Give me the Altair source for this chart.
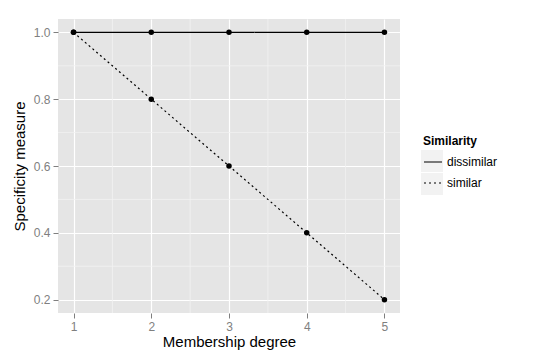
import altair as alt
import pandas as pd

membership = [1, 2, 3, 4, 5]
dissimilar = [1.0, 1.0, 1.0, 1.0, 1.0]
similar = [1.0, 0.8, 0.6, 0.4, 0.2]
groups = ["dissimilar", "similar"]
x_ticks = [1, 2, 3, 4, 5]
y_ticks = [0.2, 0.4, 0.6, 0.8, 1.0]
x_minor = [1.5, 2.5, 3.5, 4.5]
y_minor = [0.3, 0.5, 0.7, 0.9]

rows = []
for g, vals in zip(groups, [dissimilar, similar]):
    for m, v in zip(membership, vals):
        rows.append({"Membership": m, "Specificity": v, "Similarity": g, "Key": g})
df = pd.DataFrame(rows)

FONT = "Liberation Sans"
LEG_X = 363
LEG_Y = 115
xs = alt.Scale(domain=[0.8, 5.2], nice=False, zero=False)
ys = alt.Scale(domain=[0.16, 1.04], nice=False, zero=False)

xminor = alt.Chart(pd.DataFrame({"v": x_minor})).mark_rule(
    color="#F2F2F2", strokeWidth=0.8
).encode(x=alt.X("v:Q", scale=xs))
yminor = alt.Chart(pd.DataFrame({"v": y_minor})).mark_rule(
    color="#F2F2F2", strokeWidth=0.8
).encode(y=alt.Y("v:Q", scale=ys))

base = alt.Chart(df).encode(
    x=alt.X(
        "Membership:Q",
        scale=xs,
        axis=alt.Axis(values=x_ticks, title="Membership degree", format="d"),
    ),
    y=alt.Y(
        "Specificity:Q",
        scale=ys,
        axis=alt.Axis(values=y_ticks, title="Specificity measure", format=".1f"),
    ),
)

# invisible layer that only provides the grey key backgrounds of the legend
keys = base.mark_point(shape="square", filled=True, size=0, opacity=1).encode(
    fill=alt.Fill(
        "Key:N",
        scale=alt.Scale(domain=groups, range=["#F2F2F2", "#F2F2F2"]),
        legend=alt.Legend(
            title=" ",
            orient="none",
            legendX=LEG_X,
            legendY=LEG_Y,
            symbolType="square",
            symbolSize=484,
            symbolStrokeWidth=0,
            symbolOpacity=1,
            rowPadding=1,
            labelExpr="''",
            zindex=0,
        ),
    )
)

lines = base.mark_line(color="black", strokeWidth=1.2).encode(
    strokeDash=alt.StrokeDash(
        "Similarity:N",
        scale=alt.Scale(domain=groups, range=[[1, 0], [2, 3]]),
        legend=alt.Legend(
            title="Similarity",
            orient="none",
            legendX=LEG_X + 2,
            legendY=LEG_Y + 2,
            symbolType="stroke",
            symbolStrokeColor="black",
            symbolStrokeWidth=1.2,
            symbolSize=324,
            rowPadding=5,
            zindex=1,
        ),
    ),
    detail="Similarity:N",
)
points = base.mark_point(filled=True, color="black", size=30, opacity=1)

chart = (
    alt.layer(xminor, yminor, keys, lines, points)
    .resolve_legend(fill="independent", strokeDash="independent")
    .properties(
        width=342,
        height=294,
        padding={"left": 50, "top": 11, "right": 129, "bottom": 42},
        autosize=alt.AutoSizeParams(type="none"),
        background="white",
    )
    .configure_view(fill="#E5E5E5", stroke=None)
    .configure_axis(
        domain=False,
        grid=True,
        gridColor="white",
        gridWidth=1.2,
        tickColor="#7F7F7F",
        tickSize=5,
        tickWidth=1,
        labelColor="#7F7F7F",
        labelFont=FONT,
        labelFontSize=12,
        labelPadding=3,
        titleFont=FONT,
        titleFontSize=15,
        titleFontWeight="normal",
        titleColor="black",
    )
    .configure_axisX(titlePadding=2)
    .configure_axisY(titlePadding=6)
    .configure_legend(
        titleFont=FONT,
        titleFontSize=12,
        titleFontWeight="bold",
        titlePadding=4,
        labelFont=FONT,
        labelFontSize=12,
        labelColor="black",
    )
)

chart.save("out.html", embed_options={"renderer": "svg", "actions": False})
